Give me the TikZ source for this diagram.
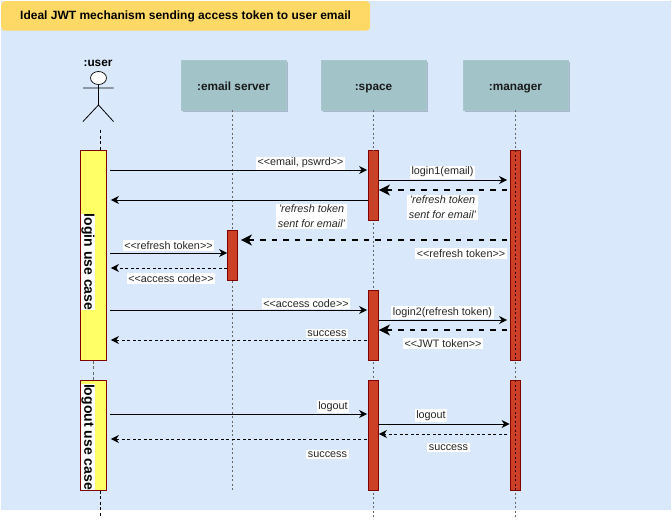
\documentclass[tikz,border=0pt]{standalone}
\usepackage{fontspec}
\setmainfont{Liberation Sans}
\usetikzlibrary{arrows.meta,shadows,calc,shapes.geometric}
\definecolor{bgblue}{HTML}{DAE8FC}
\definecolor{titlefill}{HTML}{FFD966}
\definecolor{boxfill}{HTML}{A2C4C9}
\definecolor{boxshadow}{HTML}{A9B5CC}
\definecolor{redact}{HTML}{CC4125}
\definecolor{yellowact}{HTML}{FFFF66}
\definecolor{actline}{HTML}{7F0000}
\definecolor{lifegray}{HTML}{666666}
\newcommand{\opn}{<{}<}
\newcommand{\cls}{>{}>}
\tikzset{
  lifebox/.style={draw=boxfill!90!bgblue,line width=0.4pt,fill=boxfill,minimum width=105pt,minimum height=50pt,inner sep=0pt,
    text height=10pt,text depth=0pt,
    font=\bfseries\fontsize{11.8}{13}\selectfont,text=black!90,
    drop shadow={shadow xshift=2pt,shadow yshift=-2pt,fill=boxshadow,opacity=1}},
  redbar/.style={draw=actline,line width=0.8pt,fill=redact,minimum width=10pt,inner sep=0pt},
  yellowbar/.style={draw=actline,line width=0.8pt,fill=yellowact,minimum width=26pt,inner sep=0pt},
  lifeline/.style={lifegray,line width=0.8pt,dash pattern=on 2pt off 2.5pt},
  userline/.style={black,line width=0.8pt,dash pattern=on 3pt off 2.5pt},
  msg/.style={black,line width=0.9pt,-{Stealth[length=8pt,width=8pt,inset=2.5pt]}},
  reply/.style={black,line width=0.9pt,dash pattern=on 3pt off 2.5pt,-{Stealth[length=8pt,width=8pt,inset=2.5pt]}},
  bigreply/.style={black,line width=1.4pt,dash pattern=on 5.5pt off 6pt,-{Stealth[length=11pt,width=11pt,inset=3pt]}},
  lbl/.style={yshift=-1.2pt,fill=white,inner xsep=1.5pt,inner ysep=1.5pt,font=\fontsize{10.8}{14}\selectfont,text=black!85,align=center},
  ital/.style={lbl,font=\itshape\fontsize{10.8}{14.3}\selectfont},
  sidelabel/.style={fill=white,rotate=-90,inner xsep=0pt,inner ysep=0.5pt,font=\bfseries\fontsize{14}{15}\selectfont,text=black}
}
\begin{document}
\begin{tikzpicture}[x=1pt,y=-1pt]
\useasboundingbox (0,0) rectangle (672,523);
\fill[white] (0,0) rectangle (672,523);
\node[fill=bgblue,minimum width=670pt,minimum height=509pt,inner sep=0pt,anchor=north west] (back) at (1,1) {};
\node[fill=titlefill,rounded corners=4pt,minimum width=369pt,minimum height=29.5pt,inner sep=0pt,anchor=north west] (title) at (1,1) {};
\node[anchor=west,inner sep=0pt,font=\bfseries\fontsize{12}{13}\selectfont,text=black] (titletext) at (20,16) {Ideal JWT mechanism sending access token to user email};

% lifeline heads
\node[lifebox] (mail) at (233.5,85) {:email server};
\node[lifebox] (space) at (373.5,85) {:space};
\node[lifebox] (mgr) at (515.5,85) {:manager};

% actor
\node[draw=black,line width=0.7pt,fill=white,ellipse,minimum width=16pt,minimum height=13pt,inner sep=0pt] (head) at (98.5,78) {};
\coordinate (hipc) at (98.5,105);
\coordinate (arml) at (83,88);
\coordinate (armr) at (113.5,88);
\coordinate (legl) at (83,121.5);
\coordinate (legr) at (113.5,121.5);
\draw[black,line width=0.8pt] (head.south) -- (hipc) (arml) -- (armr) (legl) -- (hipc) -- (legr);
\node[font=\bfseries\fontsize{11.8}{13}\selectfont,text=black] (userlabel) at (98,63.5) {:user};

% activation bars
\node[yellowbar,minimum height=210pt,anchor=north] (ua) at (93.5,150) {};
\node[yellowbar,minimum height=110pt,anchor=north] (ub) at (93.5,380) {};
\coordinate (ut) at (100.5,130);
\coordinate (ue) at (100.5,517);
\draw[userline] (ut) -- (ua.north -| ut);
\draw[userline,lifegray] (ua.south) -- (ub.north);
\draw[userline] (ub.south -| ut) -- (ue);
\node[sidelabel] (loginl) at (88,262) {login use case};
\node[sidelabel] (logoutl) at (88,437) {logout use case};

\coordinate (mailend) at (232,490);
\coordinate (spaceend) at (373.5,517);
\coordinate (mgrend) at (515.5,517);
\draw[lifeline] (mail.south -| mailend) -- (mailend);
\draw[lifeline] (space.south) -- (spaceend);
\draw[lifeline] (mgr.south) -- (mgrend);

\node[redbar,minimum height=70pt,anchor=north] (sa) at (373,150) {};
\node[redbar,minimum height=70pt,anchor=north] (sb) at (373,290) {};
\node[redbar,minimum height=110pt,anchor=north] (sc) at (373,380) {};
\node[redbar,minimum height=50pt,anchor=north] (ma) at (232.5,230) {};
\node[redbar,minimum height=210pt,anchor=north] (mga) at (515.5,150) {};
\node[redbar,minimum height=110pt,anchor=north] (mgb) at (515.5,380) {};
% dotted lines seen through the bars
\draw[lifeline,actline!40!black] (mga.north) -- (mga.south);
\draw[lifeline,actline!40!black] (mgb.north) -- (mgb.south);
\draw[lifeline,redact!60!lifegray] (sa.north) -- (sa.south);

% messages
\draw[msg,shorten <=3.5pt,shorten >=0.5pt] (ua.east |- 0,170) -- (sa.west |- 0,170);
\draw[msg,shorten >=3pt] (sa.east |- 0,180) -- (mga.west |- 0,180);
\draw[bigreply,shorten <=3pt,shorten >=0.5pt] (mga.west |- 0,190) -- (sa.east |- 0,190);
\draw[msg,shorten >=4pt] (sa.west |- 0,200) -- (ua.east |- 0,200);
\draw[bigreply,shorten <=3pt,shorten >=3pt] (mga.west |- 0,240) -- (ma.east |- 0,240);
\draw[msg,shorten <=3.5pt] (ua.east |- 0,253) -- (ma.west |- 0,253);
\draw[reply,shorten >=4pt] (ma.west |- 0,268) -- (ua.east |- 0,268);
\draw[msg,shorten <=3.5pt,shorten >=0.5pt] (ua.east |- 0,310) -- (sb.west |- 0,310);
\draw[msg,shorten >=3pt] (sb.east |- 0,320) -- (mga.west |- 0,320);
\draw[bigreply,shorten <=3pt,shorten >=0.5pt] (mga.west |- 0,330) -- (sb.east |- 0,330);
\draw[reply,shorten <=1pt,shorten >=4pt] (sb.west |- 0,340) -- (ua.east |- 0,340);
\draw[msg,shorten <=3.5pt,shorten >=0.5pt] (ub.east |- 0,414) -- (sc.west |- 0,414);
\draw[msg,shorten >=0.5pt] (sc.east |- 0,424) -- (mgb.west |- 0,424);
\draw[reply,shorten <=3pt,shorten >=0.5pt] (mgb.west |- 0,434) -- (sc.east |- 0,434);
\draw[reply,shorten <=1pt,shorten >=4pt] (sc.west |- 0,439) -- (ub.east |- 0,439);

% labels
\node[lbl] (t1) at (300.5,162) {\opn email, pswrd\cls};
\node[lbl] (t2) at (442.5,171) {login1(email)};
\node[ital] (t3) at (442.5,206) {'refresh token\\sent for email'};
\node[ital] (t4) at (311.5,215) {'refresh token\\sent for email'};
\node[lbl] (t5) at (461,252) {\opn refresh token\cls};
\node[lbl] (t6) at (168.5,244) {\opn refresh token\cls};
\node[lbl] (t7) at (171,277.5) {\opn access code\cls};
\node[lbl] (t8) at (306,302) {\opn access code\cls};
\node[lbl] (t9) at (442.5,311) {login2(refresh token)};
\node[lbl] (t10) at (443,342.5) {\opn JWT token\cls};
\node[lbl] (t11) at (327,332) {success};
\node[lbl] (t12) at (333,405) {logout};
\node[lbl] (t13) at (431,414) {logout};
\node[lbl] (t14) at (448.5,446) {success};
\node[lbl] (t15) at (327.5,453) {success};
\end{tikzpicture}
\end{document}
